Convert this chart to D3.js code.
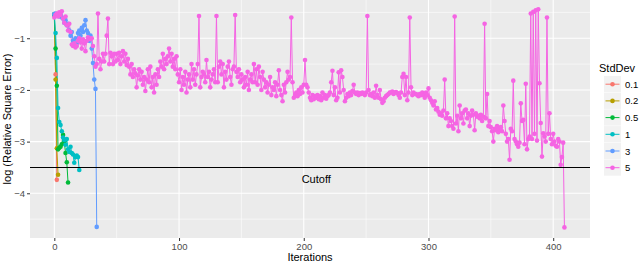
<!DOCTYPE html>
<head>
    <meta charset="utf-8">
    <title>Relative Square Error by Iteration</title>
    <style>
        body { margin: 0; }
        text { font-family: "Liberation Sans", Arial, sans-serif; }
    </style>
    <script src="https://d3js.org/d3.v7.min.js"></script>
</head>
<body>
    <script>
        // one series per StdDev, value at index i = iteration i
        var stdDevs = ["0.1", "0.2", "0.5", "1", "3", "5"];

        var err01 = [-0.55, -1.7, -3.74];
        var err02 = [-0.55, -1.8, -3.13, -3.64];
        var err05 = [-0.53, -1.2, -1.92, -3.15, -3.12, -3.1, -3.05, -2.87, -3.0, -3.22, -3.4, -3.79];
        var err1 = [-0.55, -0.9, -1.38, -2.35, -2.62, -2.68, -2.8, -2.92, -2.97, -3.06, -2.95,
            -3.15, -3.2, -3.1, -3.22, -3.25, -3.41, -3.3, -3.27, -3.3, -3.55];
        var err3 = [-0.53, -0.52, -0.55, -0.56, -0.58, -0.55, -0.6, -0.62, -0.7, -0.65,
            -0.75, -0.72, -0.85, -0.95, -0.88, -1.05, -1.12, -1.0, -1.1, -0.9,
            -0.85, -0.95, -0.8, -0.88, -0.75, -0.65, -0.85, -0.9, -1.05, -0.95,
            -1.2, -1.48, -1.8, -1.98, -4.65];
        var err5 = [
            -0.6, -0.55, -0.52, -0.58, -0.5, -0.55, -0.48, -0.62, -0.7, -0.58,
            -0.75, -0.85, -0.72, -0.88, -1.12, -1.15, -1.1, -1.18, -1.15, -1.05,
            -1.0, -1.08, -1.2, -1.02, -1.1, -1.25, -1.05, -0.98, -1.0, -1.02,
            -1.0, -1.15, -1.35, -1.55, -1.5, -0.52, -1.4, -1.6, -1.45, -1.3,
            -1.45, -1.3, -0.95, -0.62, -1.5, -1.28, -1.35, -1.5, -1.3, -1.45,
            -1.3, -1.42, -1.28, -1.5, -1.35, -1.25, -1.45, -1.3, -1.52, -1.4,
            -1.55, -1.7, -1.5, -1.75, -1.6, -1.68, -1.95, -1.72, -1.6, -1.8,
            -1.65, -1.9, -1.75, -2.02, -1.8, -1.6, -1.85, -1.55, -1.95, -1.75,
            -2.05, -1.7, -1.9, -1.6, -1.75, -1.45, -1.55, -1.3, -1.6, -1.4,
            -1.5, -1.35, -1.2, -1.45, -1.3, -1.55, -1.4, -1.6, -1.35, -1.7,
            -1.85, -1.6, -2.0, -1.75, -1.9, -1.65, -2.05, -1.8, -1.7, -1.95,
            -1.5, -1.8, -1.6, -1.9, -1.7, -1.5, -0.57, -1.95, -1.75, -1.65,
            -1.7, -1.85, -1.42, -1.75, -1.65, -1.95, -1.8, -1.7, -1.6, -1.85,
            -0.57, -1.85, -1.55, -1.45, -1.7, -1.5, -1.95, -1.65, -1.8, -1.55,
            -1.45, -1.75, -1.9, -1.6, -1.55, -0.55, -1.65, -1.75, -1.6, -1.85,
            -1.7, -1.8, -1.95, -1.75, -1.9, -1.65, -2.0, -1.8, -1.7, -1.85,
            -1.5, -1.85, -1.6, -1.9, -1.55, -1.75, -2.0, -1.65, -1.8, -1.95,
            -1.85, -2.05, -1.9, -1.75, -2.1, -1.95, -2.0, -1.85, -2.12, -1.9,
            -1.62, -2.0, -2.1, -2.22, -1.9, -2.05, -1.85, -1.65, -1.8, -1.75,
            -0.6, -1.85, -2.15, -2.1, -2.05, -2.12, -2.0, -2.08, -1.95, -2.05,
            -1.9, -1.42, -1.9, -1.95, -2.05, -2.15, -2.2, -2.1, -2.18, -2.12,
            -2.15, -2.1, -2.18, -2.12, -2.2, -2.05, -2.15, -2.1, -2.17, -2.12,
            -2.1, -2.05, -1.85, -1.63, -2.1, -1.95, -2.2, -2.15, -1.66, -2.05,
            -1.62, -1.75, -2.0, -2.22, -2.15, -2.08, -2.12, -2.05, -2.1, -2.02,
            -1.9, -2.05, -2.08, -2.05, -2.1, -2.06, -2.08, -2.05, -2.07, -2.1,
            -2.05, -0.57, -2.0, -2.1, -2.08, -2.12, -2.05, -2.15, -1.92, -2.1,
            -2.15, -2.0, -2.18, -2.25, -2.22, -2.15, -2.12, -2.1, -2.08, -2.05,
            -2.05, -2.03, -2.08, -2.05, -2.04, -2.06, -2.1, -2.15, -2.05, -1.75,
            -1.69, -2.1, -1.75, -2.2, -2.05, -0.6, -1.95, -2.1, -2.05, -2.08,
            -2.08, -2.1, -2.12, -2.08, -2.1, -2.05, -2.1, -2.15, -2.05, -2.1,
            -1.97, -2.15, -2.2, -2.25, -2.3, -2.22, -2.38, -2.35, -2.42, -2.48,
            -2.45, -2.5, -2.4, -1.8, -2.55, -2.45, -2.7, -2.55, -2.6, -2.7,
            -2.75, -0.58, -2.65, -2.5, -2.8, -2.3, -2.55, -2.45, -2.65, -2.4,
            -2.38, -2.55, -2.45, -2.7, -2.5, -2.4, -2.48, -2.78, -2.45, -2.52,
            -2.5, -2.55, -2.48, -2.6, -2.52, -0.72, -2.55, -2.08, -2.7, -2.6,
            -2.72, -2.8, -3.0, -2.75, -2.78, -2.7, -2.82, -2.75, -2.72, -2.8,
            -2.3, -2.6, -2.85, -3.0, -2.95, -3.35, -2.75, -2.8, -1.82, -2.95,
            -3.0, -3.05, -3.1, -3.02, -2.26, -2.6, -2.58, -3.05, -1.88, -3.15,
            -2.95, -2.9, -0.52, -2.95, -0.49, -2.85, -0.46, -2.98, -0.44, -1.87,
            -2.64, -3.29, -2.84, -2.9, -3.0, -0.6, -2.85, -2.45, -2.95, -3.05,
            -2.85, -3.0, -3.08, -3.1, -2.95, -3.0, -3.45, -3.3, -3.02, -4.66
        ];
        var seriesValues = [err01, err02, err05, err1, err3, err5];
        var cutoff = -3.5;

        var xTicks = [0, 100, 200, 300, 400];
        var yTicks = [-1, -2, -3, -4];

        var colors = ["#F8766D", "#B79F00", "#00BA38", "#00BFC4", "#619CFF", "#F564E3"];

        var series = stdDevs.map(function (s, k) {
            return { name: s, color: colors[k], values: seriesValues[k].map(function (v, i) { return { x: i, y: v }; }) };
        });

        var margin = { top: 0, right: 50, bottom: 25, left: 30 },
            width = 640 - margin.left - margin.right,
            height = 263 - margin.top - margin.bottom;

        var x = d3.scaleLinear().domain([-19.5, 429.5]).range([0, width]);
        var y = d3.scaleLinear().domain([-4.865, -0.26]).range([height, 0]);

        var svg = d3.select("body").append("svg")
            .attr("width", 640)
            .attr("height", 263);

        var plot = svg.append("g")
            .attr("transform", "translate(" + margin.left + "," + margin.top + ")");

        plot.append("rect")
            .attr("width", width)
            .attr("height", height)
            .attr("fill", "#EBEBEB");

        // minor grid
        var xMinor = [50, 150, 250, 350];
        var yMinor = [-0.5, -1.5, -2.5, -3.5, -4.5];
        plot.append("g").selectAll("line").data(xMinor).enter().append("line")
            .attr("x1", d => x(d)).attr("x2", d => x(d))
            .attr("y1", 0).attr("y2", height)
            .attr("stroke", "#fff").attr("stroke-width", 0.55);
        plot.append("g").selectAll("line").data(yMinor).enter().append("line")
            .attr("x1", 0).attr("x2", width)
            .attr("y1", d => y(d)).attr("y2", d => y(d))
            .attr("stroke", "#fff").attr("stroke-width", 0.55);
        // major grid
        plot.append("g").selectAll("line").data(xTicks).enter().append("line")
            .attr("x1", d => x(d)).attr("x2", d => x(d))
            .attr("y1", 0).attr("y2", height)
            .attr("stroke", "#fff").attr("stroke-width", 1.1);
        plot.append("g").selectAll("line").data(yTicks).enter().append("line")
            .attr("x1", 0).attr("x2", width)
            .attr("y1", d => y(d)).attr("y2", d => y(d))
            .attr("stroke", "#fff").attr("stroke-width", 1.1);

        var x_axis = plot.append("g")
            .attr("transform", "translate(0," + height + ")")
            .call(d3.axisBottom(x).tickValues(xTicks).tickSize(3).tickPadding(2));
        var y_axis = plot.append("g")
            .call(d3.axisLeft(y).tickValues(yTicks).tickSize(3).tickPadding(2).tickFormat(d3.format("d")));
        [x_axis, y_axis].forEach(function (a) {
            a.select(".domain").remove();
            a.selectAll("line").attr("stroke", "#333");
            a.selectAll("text").attr("fill", "#4D4D4D").style("font-size", "9.5px")
                .style("font-family", "'Liberation Sans', Arial, sans-serif");
        });
        y_axis.selectAll("text").text(d => "\u2212" + Math.abs(d));

        var line = d3.line().x(d => x(d.x)).y(d => y(d.y));

        plot.append("g").selectAll("path").data(series).enter().append("path")
            .attr("d", d => line(d.values))
            .attr("fill", "none")
            .attr("stroke", d => d.color)
            .attr("stroke-width", 1);

        plot.append("g").selectAll("g").data(series).enter().append("g")
            .attr("fill", d => d.color)
            .selectAll("circle").data(d => d.values).enter().append("circle")
            .attr("cx", d => x(d.x))
            .attr("cy", d => y(d.y))
            .attr("r", 2.3);

        plot.append("line")
            .attr("x1", 0).attr("x2", width)
            .attr("y1", y(cutoff)).attr("y2", y(cutoff))
            .attr("stroke", "#000").attr("stroke-width", 1.1);
        plot.append("text")
            .attr("x", x(210)).attr("y", y(cutoff) + 16)
            .attr("text-anchor", "middle")
            .style("font-size", "11px")
            .text("Cutoff");

        svg.append("text")
            .attr("x", margin.left + width / 2).attr("y", 261)
            .attr("text-anchor", "middle")
            .style("font-size", "11px")
            .text("Iterations");
        svg.append("text")
            .attr("transform", "translate(11," + (height / 2) + ") rotate(-90)")
            .attr("text-anchor", "middle")
            .style("font-size", "11px")
            .text("log (Relative Square Error)");

        // legend
        var legend = svg.append("g").attr("transform", "translate(604,76)");
        legend.append("text")
            .attr("x", -5).attr("y", -4)
            .style("font-size", "11px")
            .text("StdDev");
        var keys = legend.selectAll("g.key").data(series).enter().append("g")
            .attr("class", "key")
            .attr("transform", (d, k) => "translate(0," + (k * 16.7) + ")");
        keys.append("rect")
            .attr("width", 17).attr("height", 16.2)
            .attr("fill", "#F2F2F2");
        keys.append("line")
            .attr("x1", 1.5).attr("x2", 15.5).attr("y1", 8.2).attr("y2", 8.2)
            .attr("stroke", d => d.color).attr("stroke-width", 1);
        keys.append("circle")
            .attr("cx", 8.5).attr("cy", 8.2).attr("r", 2.3)
            .attr("fill", d => d.color);
        keys.append("text")
            .attr("x", 21).attr("y", 11.8)
            .style("font-size", "9.5px")
            .text(d => d.name);
    </script>
</body>
